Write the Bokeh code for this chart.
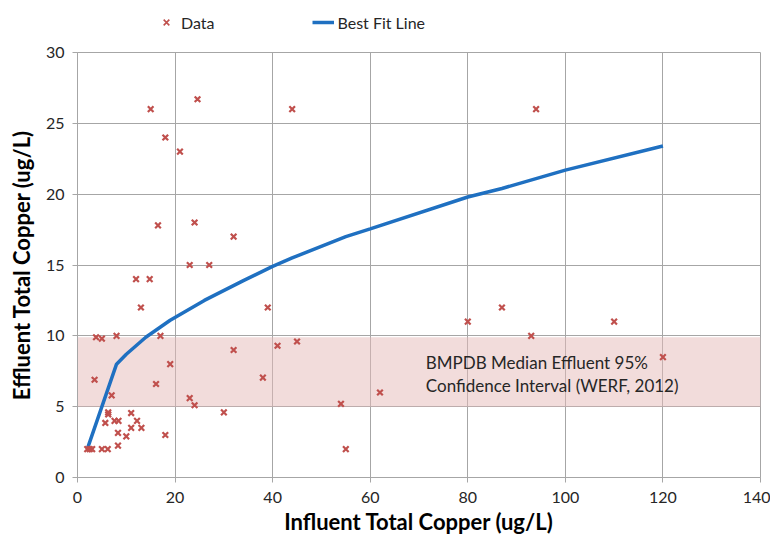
from bokeh.plotting import figure
from bokeh.layouts import column
from bokeh.models import Range1d, FixedTicker, Legend, LegendItem
from bokeh.embed import file_html
from bokeh.resources import INLINE
from bokeh.core.properties import value

# Scatter data (influent, effluent total copper, ug/L)
data_x = [15, 24.6, 18, 21, 16.5, 24, 32, 23, 27, 12, 14.8, 13, 39, 3.8, 5, 8, 17, 32, 19,
          3.5, 16.1, 38, 7, 23, 24, 30, 6.3, 6.3, 5.7, 7.6, 8.4, 11, 12.2, 11, 13.1, 8.3,
          10, 18, 8.3, 2.0, 2.5, 3.0, 5.0, 6.2, 44, 41, 45, 54, 62, 55, 80, 87, 93, 110,
          120, 94]
data_y = [26, 26.7, 24, 23, 17.8, 18, 17, 15, 15, 14, 14, 12, 12, 9.9, 9.8, 10, 10, 9, 8,
          6.9, 6.6, 7.05, 5.8, 5.6, 5.1, 4.6, 4.6, 4.45, 3.85, 4.0, 4.0, 4.55, 4.0, 3.5, 3.5,
          3.15, 2.9, 3.0, 2.25, 2.0, 2.0, 2.0, 2.0, 2.0, 26, 9.3, 9.6, 5.2, 6.0, 2.0, 11, 12,
          10, 11, 8.5, 26]

# Best fit line
fit_x = [2, 8, 10, 14, 19, 26, 34, 40, 44, 55, 60, 80, 87, 100, 120]
fit_y = [2.0, 8.0, 8.7, 9.9, 11.1, 12.5, 13.9, 14.9, 15.5, 17.0, 17.55, 19.8, 20.4, 21.7, 23.4]

# BMPDB median effluent 95% confidence interval band
band_x = [0, 140]
band_low = [5.0, 5.0]
band_high = [9.9, 9.9]
band_text = ["BMPDB Median Effluent 95%", "Confidence Interval (WERF, 2012)"]
band_text_x = [71.4, 71.4]
band_text_y = [8.13, 6.48]

x_ticks = [0, 20, 40, 60, 80, 100, 120, 140]
y_ticks = [0, 5, 10, 15, 20, 25, 30]

FONT = "Lato"
GRID = "#a6a6a6"
RED = "#c0504d"
BLUE = "#1f70c1"

# ---- legend strip above the plot (its frame shows no data; glyphs only feed the legend) ----
lg = figure(width=770, height=40, output_backend="svg", toolbar_location=None,
            x_range=Range1d(-2, -1), y_range=Range1d(-2, -1),
            min_border_left=77, min_border_right=10, min_border_top=0, min_border_bottom=0,
            outline_line_color=None)
lg.axis.visible = False
lg.grid.visible = False
leg_sc = lg.scatter(data_x, data_y, marker="x", size=7, line_color=RED, line_width=1.6)
leg_ln = lg.line(fit_x, fit_y, line_color=BLUE, line_width=3.5)
legend = Legend(items=[LegendItem(label="Data", renderers=[leg_sc]),
                       LegendItem(label="Best Fit Line", renderers=[leg_ln])],
                orientation="horizontal", location=(78, 8),
                border_line_color=None, background_fill_alpha=0,
                padding=0, margin=0, spacing=97, glyph_width=22, label_standoff=4,
                label_text_font=FONT, label_text_font_size="16px", label_text_color="#262626")
lg.add_layout(legend)

# ---- main plot ----
p = figure(width=770, height=501, output_backend="svg", toolbar_location=None,
           x_range=Range1d(0, 140), y_range=Range1d(0, 30),
           min_border_left=77, min_border_right=10, min_border_top=12, min_border_bottom=64)

p.varea(x=band_x, y1=band_low, y2=band_high, fill_color="#e6b9b8", fill_alpha=0.5)
p.text(x=band_text_x, y=band_text_y, text=band_text, text_font=value(FONT),
       text_font_size="17px", text_color="#262626", text_baseline="alphabetic")

ln = p.line(fit_x, fit_y, line_color=BLUE, line_width=3.5)
sc = p.scatter(data_x, data_y, marker="x", size=8, line_color=RED, line_width=2.2)

p.xaxis.ticker = FixedTicker(ticks=x_ticks)
p.yaxis.ticker = FixedTicker(ticks=y_ticks)
p.axis.major_tick_in = 0
p.axis.major_tick_out = 5
p.axis.minor_tick_in = 0
p.axis.minor_tick_out = 0
p.axis.axis_line_color = GRID
p.axis.major_tick_line_color = GRID
p.axis.major_label_text_font = FONT
p.axis.major_label_text_font_size = "16px"
p.axis.major_label_text_color = "#262626"
p.axis.major_label_standoff = 8
p.xaxis.major_label_standoff = 9
p.xaxis.axis_label = "Influent Total Copper (ug/L)"
p.yaxis.axis_label = "Effluent Total Copper (ug/L)"
p.axis.axis_label_text_font = FONT
p.axis.axis_label_text_font_style = "bold"
p.axis.axis_label_text_font_size = "22px"
p.axis.axis_label_text_color = "#000000"
p.xaxis.axis_label_standoff = 2
p.yaxis.axis_label_standoff = 8

p.grid.grid_line_color = GRID
p.outline_line_color = GRID

layout = column(lg, p, spacing=0)
open("out.html", "w").write(file_html(layout, INLINE))
